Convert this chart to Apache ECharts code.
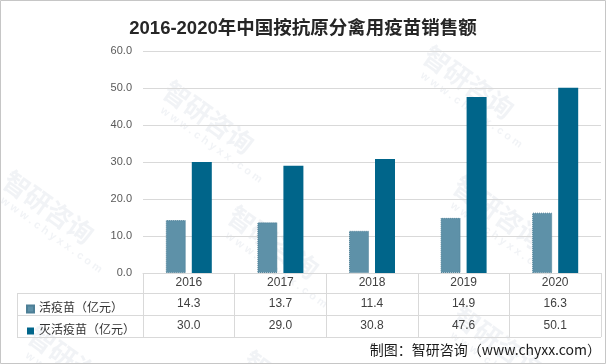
<!DOCTYPE html>
<html><head><meta charset="utf-8">
<script src="https://cdn.jsdelivr.net/npm/echarts@6/dist/echarts.min.js"></script>
<style>html,body{margin:0;padding:0;background:#fff}#c{width:606px;height:364px}</style>
</head><body><div id="c"></div>
<script>
var titleText = '2016-2020年中国按抗原分禽用疫苗销售额';
var years = ['2016', '2017', '2018', '2019', '2020'];
var seriesNames = ['活疫苗（亿元）', '灭活疫苗（亿元）'];
var liveVaccine = [14.3, 13.7, 11.4, 14.9, 16.3];
var inactivatedVaccine = [30.0, 29.0, 30.8, 47.6, 50.1];
var yTicks = { min: 0, max: 60, interval: 10 };
var sourceText = '制图：智研咨询（www.chyxx.com）';

var colors = ['#5E91A8', '#00658A'];
var chart = echarts.init(document.getElementById('c'), null, { renderer: 'canvas' });
var FONT = '"Liberation Sans","Noto Sans CJK SC",sans-serif';

var line = function (x1, y1, x2, y2) {
  return { type: 'line', shape: { x1: x1, y1: y1, x2: x2, y2: y2 }, style: { stroke: '#d9d9d9', lineWidth: 1 }, silent: true };
};
var wm = function (x, y) {
  return { type: 'text', x: x, y: y, rotation: -0.62, silent: true, z: -1,
    style: { text: '{a|智研咨询}\n{b|   w w w . c h y x x . c o m}', textVerticalAlign: 'bottom',
      rich: {
        a: { fill: 'rgba(120,140,170,0.10)', font: 'bold 26px "Noto Sans CJK SC"', lineHeight: 28 },
        b: { fill: 'rgba(120,140,170,0.10)', font: 'bold 11px "Liberation Sans"', lineHeight: 14 }
      } } };
};

chart.setOption({
  animation: false,
  title: { text: titleText, left: 'center', top: 13,
    textStyle: { fontFamily: '"Liberation Sans","Noto Sans CJK SC",sans-serif', fontSize: 18.5, fontWeight: 'bold', color: '#262626', lineHeight: 22 } },
  legend: { orient: 'vertical', left: 21, top: 297, itemWidth: 7, itemHeight: 7, itemGap: 8, icon: 'rect',
    textStyle: { fontFamily: FONT, fontSize: 12, color: '#333', lineHeight: 14 },
    data: seriesNames, selectedMode: false },
  grid: { left: 143, right: 5, top: 51, bottom: 91, containLabel: false },
  xAxis: {
    type: 'category', data: years,
    axisLine: { show: true, lineStyle: { color: '#d9d9d9' } },
    axisTick: { show: true, length: 64, lineStyle: { color: '#d9d9d9' } },
    axisLabel: { interval: 0, margin: 0,
      formatter: function (v, i) {
        return '{y|' + v + '}\n{v|' + liveVaccine[i].toFixed(1) + '}\n{v|' + inactivatedVaccine[i].toFixed(1) + '}';
      },
      rich: {
        y: { fontFamily: FONT, fontSize: 12, color: '#404040', lineHeight: 20 },
        v: { fontFamily: FONT, fontSize: 12, color: '#404040', lineHeight: 22 }
      } }
  },
  yAxis: {
    type: 'value', min: yTicks.min, max: yTicks.max, interval: yTicks.interval,
    axisLine: { show: false }, axisTick: { show: false },
    axisLabel: { margin: 11, fontFamily: FONT, fontSize: 11, color: '#595959', formatter: function (v) { return v.toFixed(1); } },
    splitLine: { lineStyle: { color: '#d9d9d9' } }
  },
  series: [
    { name: seriesNames[0], type: 'bar', data: liveVaccine, barWidth: 20, barGap: '30%',
      itemStyle: { color: colors[0], borderColor: '#4d7f96', borderWidth: 1, borderType: 'dotted' } },
    { name: seriesNames[1], type: 'bar', data: inactivatedVaccine, barWidth: 20,
      itemStyle: { color: colors[1] } }
  ],
  graphic: [
    wm(150, 110), wm(410, 75), wm(-10, 200), wm(215, 235), wm(440, 205), wm(15, 355), wm(230, 380), wm(440, 335),
    line(17, 293.5, 601, 293.5),
    line(17, 315.5, 601, 315.5),
    line(17, 337.5, 601, 337.5),
    line(17.5, 293, 17.5, 338),
    { type: 'rect', shape: { x: 0.5, y: 0.5, width: 605, height: 363 }, style: { fill: 'none', stroke: '#c6c6c6', lineWidth: 1 }, silent: true },
    { type: 'text', x: 601, y: 350, style: { text: sourceText, fill: '#1a1a1a', font: '14px "Noto Sans CJK SC","Liberation Sans",sans-serif', textAlign: 'right', textVerticalAlign: 'middle' } }
  ]
});
</script></body></html>
